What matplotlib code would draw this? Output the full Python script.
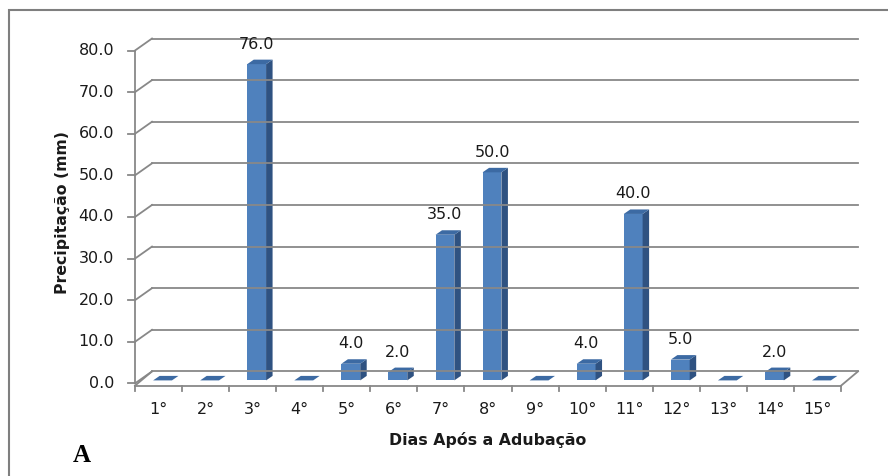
import numpy as np
import matplotlib.pyplot as plt
from matplotlib.patches import Polygon, Rectangle
from matplotlib.lines import Line2D

dias = ['1°', '2°', '3°', '4°', '5°', '6°', '7°', '8°', '9°', '10°',
        '11°', '12°', '13°', '14°', '15°']
precip = [0, 0, 76, 0, 4, 2, 35, 50, 0, 4, 40, 5, 0, 2, 0]
y_ticks = [0, 10, 20, 30, 40, 50, 60, 70, 80]

W, H = 888, 476
fig = plt.figure(figsize=(W / 100, H / 100), dpi=100)
fig.patch.set_facecolor('white')

# outer frame (only left and top visible in the crop)
fig.patches.append(Rectangle((9 / W, -0.1), 1.2, 1 - 10 / H + 0.1, transform=fig.transFigure,
                             fill=False, edgecolor='#7f7f7f', lw=1.5))

# front plane of the 3D plot area
left, right = 135, 841
y0_px, y80_px = 383.4, 50.5
ax = fig.add_axes([left / W, 1 - y0_px / H, (right - left) / W, (y0_px - y80_px) / H])
ax.set_xlim(0, len(dias))
ax.set_ylim(0, 80)
ax.axis('off')

# pixel -> data unit conversion
px_x = len(dias) / (right - left)
px_y = 80 / (y0_px - y80_px)

grid_c = '#888888'
txt_c = '#1a1a1a'
wall_dx, wall_dy = 17 * px_x, 12 * px_y

# back wall gridlines and side-wall diagonals
for v in y_ticks:
    ax.add_line(Line2D([wall_dx, len(dias) + wall_dx], [v + wall_dy, v + wall_dy],
                       color=grid_c, lw=1.3, clip_on=False))
    ax.add_line(Line2D([0, wall_dx], [v, v + wall_dy], color=grid_c, lw=1.3, clip_on=False))
    ax.add_line(Line2D([-7 * px_x, 0], [v, v], color=grid_c, lw=1.3, clip_on=False))
    ax.text(-21 * px_x, v, f'{v:.1f}', ha='right', va='center', fontsize=11.5, color=txt_c)

# front y-axis
ax.add_line(Line2D([0, 0], [0, 80], color=grid_c, lw=1.3, clip_on=False))

# floor front edge, side diagonals, x ticks
fy = -2.3 * px_y
ax.add_line(Line2D([0, len(dias)], [fy, fy], color=grid_c, lw=1.3, clip_on=False))
ax.add_line(Line2D([0, wall_dx], [fy, wall_dy], color=grid_c, lw=1.3, clip_on=False))
ax.add_line(Line2D([len(dias), len(dias) + wall_dx], [fy, wall_dy], color=grid_c, lw=1.3, clip_on=False))
for i in range(len(dias) + 1):
    ax.add_line(Line2D([i, i], [fy, fy - 5 * px_y], color=grid_c, lw=1.3, clip_on=False))
for i, lab in enumerate(dias):
    ax.text(i + 0.5, fy - 24 * px_y, lab, ha='center', va='center', fontsize=11.5, color=txt_c)

# bars with pseudo-3D faces
front_c, side_c, top_c = '#4f81bd', '#2f5281', '#3c6aa3'
bw = 0.40
off_x, off_y = 4 * px_x, 3 * px_y
dep_x, dep_y = 6.5 * px_x, 4.5 * px_y
for i, v in enumerate(precip):
    x0 = i + 0.5 - bw / 2 + off_x
    x1 = x0 + bw
    b = off_y
    t = v + off_y
    if v > 0:
        ax.add_patch(Rectangle((x0, b), bw, v, facecolor=front_c, edgecolor='none', clip_on=False))
        ax.add_patch(Polygon([(x1, b), (x1 + dep_x, b + dep_y), (x1 + dep_x, t + dep_y), (x1, t)],
                             closed=True, facecolor=side_c, edgecolor='none', clip_on=False))
    ax.add_patch(Polygon([(x0, t), (x1, t), (x1 + dep_x, t + dep_y), (x0 + dep_x, t + dep_y)],
                         closed=True, facecolor=top_c, edgecolor='none', clip_on=False))
    if v > 0:
        ax.text((x0 + x1) / 2, t + 20 * px_y, f'{v:.1f}', ha='center', va='center',
                fontsize=11.5, color=txt_c)

fig.text(62 / W, 1 - 213 / H, 'Precipitação (mm)', rotation=90, ha='center', va='center',
         fontsize=11.3, fontweight='bold', color=txt_c)
fig.text(488 / W, 1 - 440 / H, 'Dias Após a Adubação', ha='center', va='center',
         fontsize=11.3, fontweight='bold', color=txt_c)
fig.text(82 / W, 1 - 455 / H, 'A', ha='center', va='center', fontsize=18,
         fontweight='bold', family='Liberation Serif', color='black')

fig.savefig('out.png', dpi=100)
